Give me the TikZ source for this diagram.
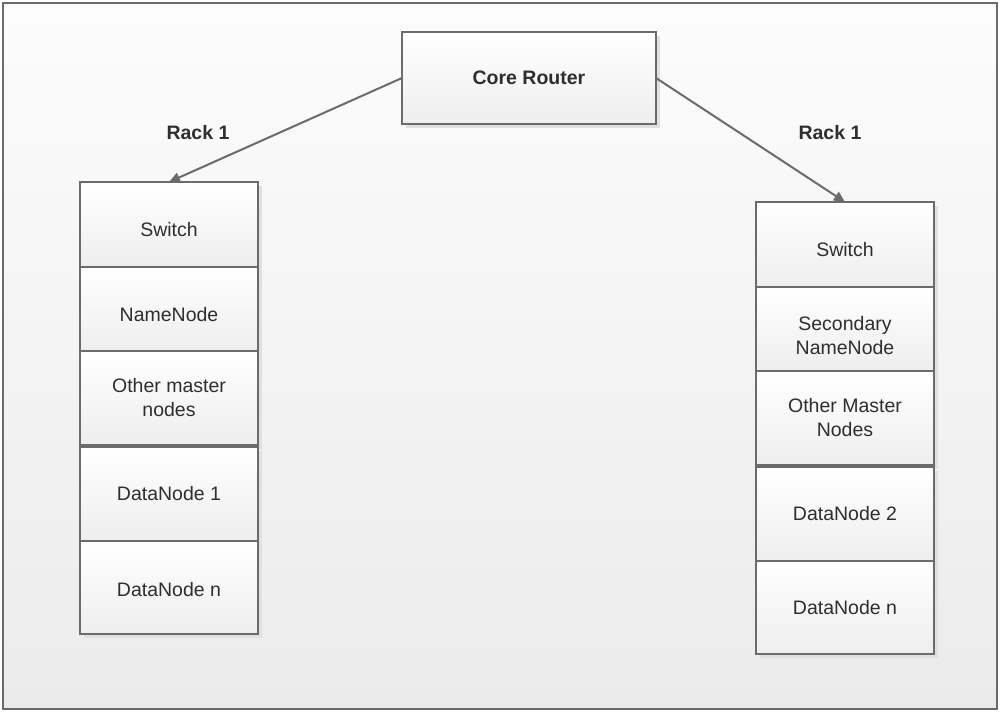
\documentclass[tikz,border=0pt]{standalone}
\usepackage{fontspec}
\setmainfont{Liberation Sans}
\usetikzlibrary{arrows.meta,shadows}
\definecolor{edgegray}{HTML}{6B6B6B}
\definecolor{txtgray}{HTML}{2E2E2E}
\definecolor{bgtop}{HTML}{FCFCFC}
\definecolor{bgbot}{HTML}{EBEBEB}
\definecolor{boxbot}{HTML}{EEEEEE}
\begin{document}
\begin{tikzpicture}[x=1pt,y=-1pt,
  stackbox/.style={draw=edgegray, line width=2pt, top color=white, bottom color=boxbot,
    text=txtgray, font=\fontsize{19.5}{24}\selectfont, align=center,
    minimum width=178pt, inner sep=0pt, outer sep=0pt,
    drop shadow={shadow xshift=4pt, shadow yshift=-4pt, fill=black!12, opacity=1}},
  lowered/.style={text height=#1},
  corebox/.style={stackbox, font=\fontsize{19.5}{24}\selectfont\bfseries, minimum width=254pt, minimum height=92pt},
  conn/.style={draw=edgegray, line width=2pt, -{Triangle[length=11pt,width=10pt]}},
  racklabel/.style={text=txtgray, font=\fontsize{19.5}{24}\selectfont\bfseries, inner sep=0pt}]
\useasboundingbox (0,0) rectangle (1004,718);
\shade[top color=bgtop, bottom color=bgbot] (3,3) rectangle (997,709);
\draw[edgegray, line width=2.5pt] (3,3) rectangle (997,709);

\node[corebox] (core) at (529,78) {Core Router};

% left stack
\node[stackbox, minimum height=85pt, lowered=24pt] (ls) at (169,224.5) {Switch};
\node[stackbox, minimum height=84pt, lowered=25pt] (lnn) at (169,309) {NameNode};
\node[stackbox, minimum height=94pt] (lom) at (169,398) {Other master\\nodes};
\node[stackbox, minimum height=94pt] (ld1) at (169,494) {DataNode 1};
\node[stackbox, minimum height=93pt, lowered=18pt] (ldn) at (169,587.5) {DataNode n};

% right stack
\node[stackbox, minimum height=85pt, lowered=24pt] (rs) at (845,244.5) {Switch};
\node[stackbox, minimum height=84pt, lowered=52pt] (rsn) at (845,329) {Secondary\\NameNode};
\node[stackbox, minimum height=94pt] (rom) at (845,418) {Other Master\\Nodes};
\node[stackbox, minimum height=94pt] (rd2) at (845,514) {DataNode 2};
\node[stackbox, minimum height=93pt] (rdn) at (845,607.5) {DataNode n};

\draw[conn] (core.west) -- (ls.north);
\draw[conn] (core.east) -- (rs.north);

\node[racklabel] (rack1l) at (198,133) {Rack 1};
\node[racklabel] (rack1r) at (830,133) {Rack 1};
\end{tikzpicture}
\end{document}
